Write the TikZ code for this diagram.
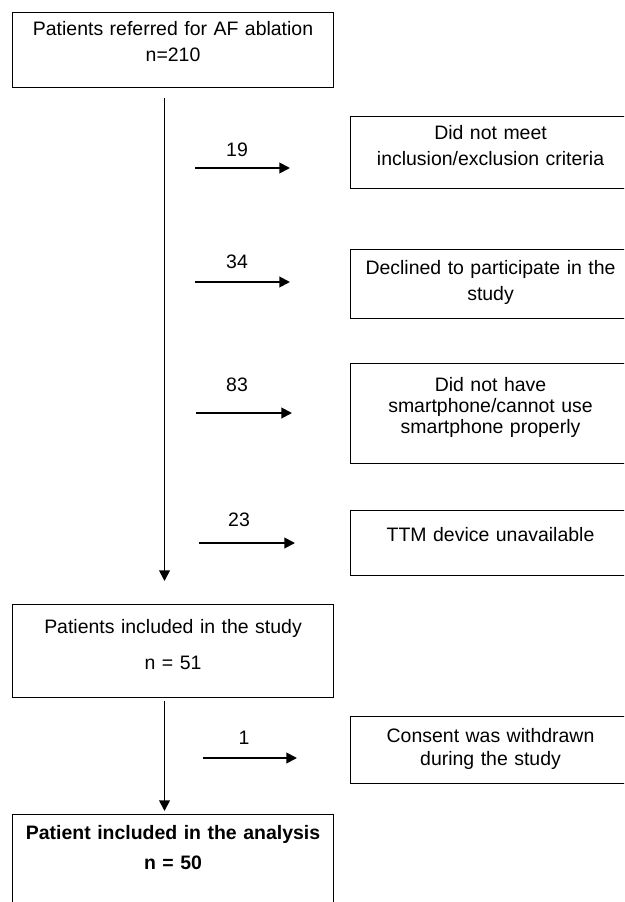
\documentclass[tikz,border=0pt]{standalone}
\usepackage{fontspec}
\setmainfont{Liberation Sans}
\usetikzlibrary{arrows.meta,positioning}
\tikzset{
  box/.style={draw,line width=0.8pt,inner sep=0pt,align=center,anchor=north west,font=\fontsize{14.6}{19.5}\selectfont},
  wide/.style={box,text width=240.75pt},
  side/.style={box,text width=210pt},
  num/.style={inner sep=0pt,font=\fontsize{14.6}{19.5}\selectfont},
  arr/.style={-{Triangle[length=8pt,width=8pt]},line width=1.4pt},
}
\begin{document}
\begin{tikzpicture}[x=0.75pt,y=-0.75pt]
\useasboundingbox (0,0) rectangle (624,902);
\clip (0,0) rectangle (624,902);
% main column
\node[wide,text height=17.25pt,text depth=39pt] (ref) at (12,12) {Patients referred for AF ablation\\n=210};
\node[wide,text height=21.75pt,text depth=48pt] (incl) at (12,604) {Patients included in the study\\[7.5pt]n = 51};
\node[wide,text height=18.75pt,text depth=60.75pt,font=\fontsize{14.6}{19.5}\selectfont\bfseries] (ana) at (12,814) {Patient included in the analysis\\[3pt]n = 50};
% excluded
\node[side,text height=17.25pt,text depth=36.75pt] (ex1) at (350,116) {Did not meet\\inclusion/exclusion criteria};
\node[side,text height=18.75pt,text depth=33pt] (ex2) at (350,249) {Declined to participate in the\\study};
\node[side,text height=21pt,text depth=54pt] (ex3) at (350,363) {Did not have\\[-3.75pt]smartphone/cannot use\\[-3.75pt]smartphone properly};
\node[side,text height=23.25pt,text depth=25.5pt] (ex4) at (350,510) {TTM device unavailable};
\node[side,text height=19.5pt,text depth=30.75pt] (ex5) at (350,716) {Consent was withdrawn\\[-2.25pt]during the study};
% counts
\node[num] (n19) at (237,150) {19};
\node[num] (n34) at (237,262) {34};
\node[num] (n83) at (237,385) {83};
\node[num] (n23) at (239,520) {23};
\node[num] (n1) at (244,738) {1};
\coordinate (a19) at (195,168); \coordinate (b19) at (290,168);
\coordinate (a34) at (195,282); \coordinate (b34) at (290,282);
\coordinate (a83) at (196,413); \coordinate (b83) at (292,413);
\coordinate (a23) at (199,543); \coordinate (b23) at (295,543);
\coordinate (a1) at (203,758); \coordinate (b1) at (297,758);
\draw[arr] ([xshift=-6.4pt,yshift=-7.5pt]ref.south) -- ([xshift=-6.4pt,yshift=17.25pt]incl.north);
\draw[arr] ([xshift=-6.4pt,yshift=-2.25pt]incl.south) -- ([xshift=-6.4pt,yshift=2.25pt]ana.north);
\draw[arr] (a19) -- (b19);
\draw[arr] (a34) -- (b34);
\draw[arr] (a83) -- (b83);
\draw[arr] (a23) -- (b23);
\draw[arr] (a1) -- (b1);
\end{tikzpicture}
\end{document}
